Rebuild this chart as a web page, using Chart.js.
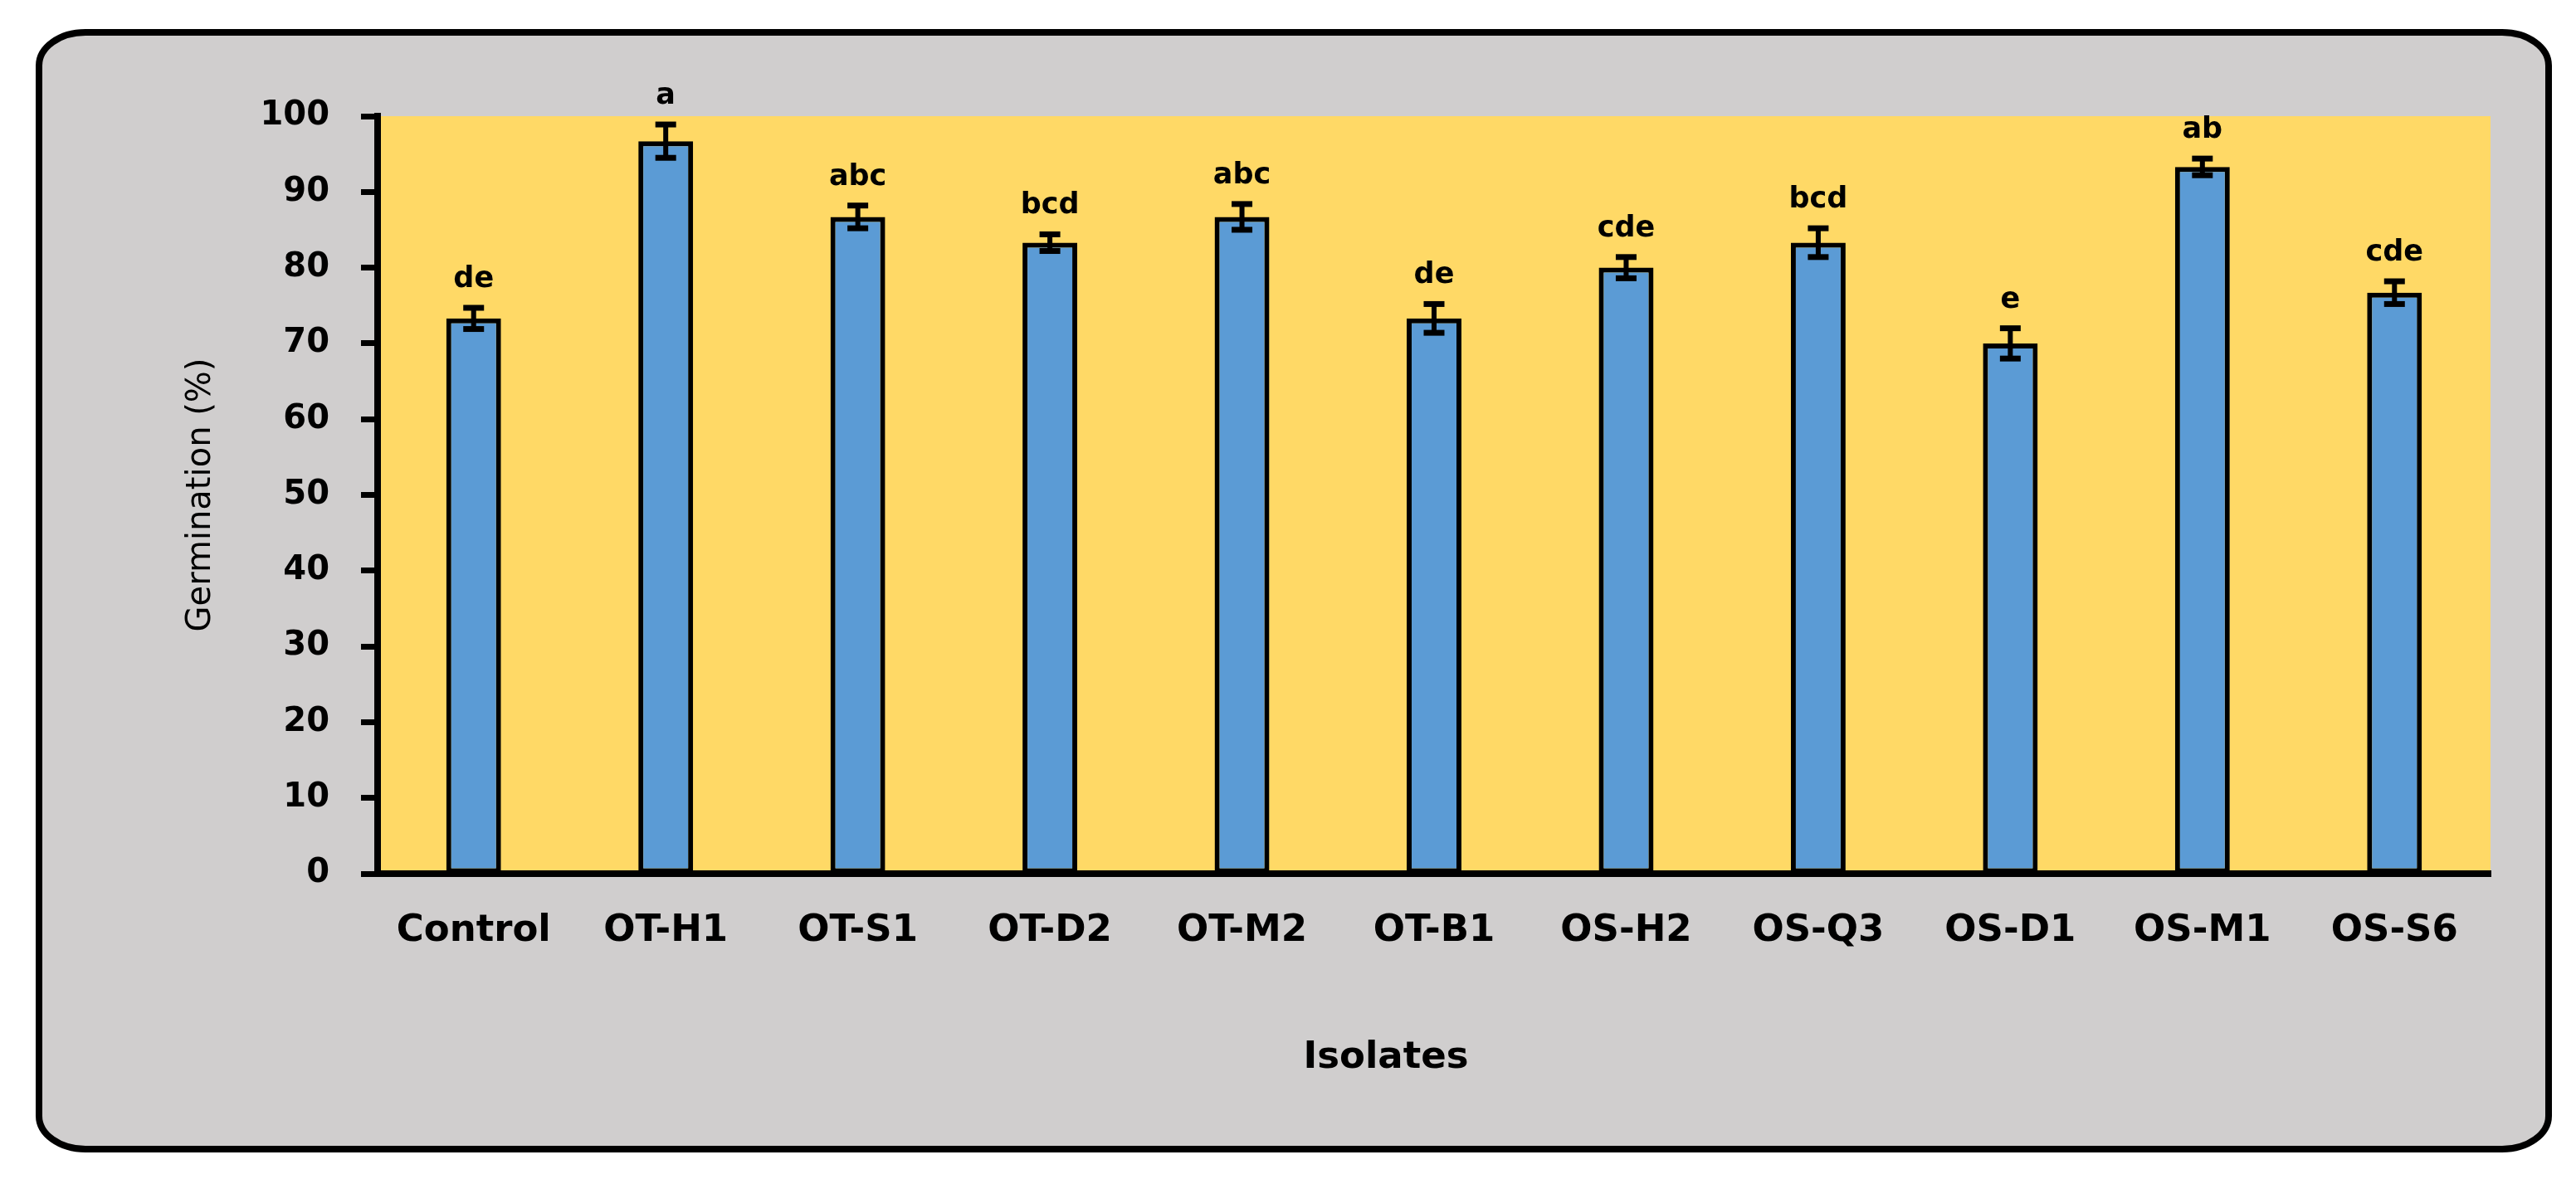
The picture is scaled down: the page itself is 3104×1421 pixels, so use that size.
<!DOCTYPE html>
<html>
<head>
<meta charset="utf-8">
<script src="https://cdn.jsdelivr.net/npm/chart.js@4.4.1/dist/chart.umd.min.js"></script>
<style>
  html, body { margin: 0; padding: 0; background: #ffffff; }
  #wrap { width: 3104px; height: 1421px; }
</style>
</head>
<body>
<div id="wrap"><canvas id="germination"></canvas></div>
<script>
const isolates = ["Control", "OT-H1", "OT-S1", "OT-D2", "OT-M2", "OT-B1", "OS-H2", "OS-Q3", "OS-D1", "OS-M1", "OS-S6"];
const germination = [73.3, 96.7, 86.7, 83.3, 86.7, 73.3, 80.0, 83.3, 70.0, 93.3, 76.7];
const errors = [1.4, 2.2, 1.5, 1.1, 1.7, 1.9, 1.4, 1.9, 2.0, 1.1, 1.5];
const letters = ["de", "a", "abc", "bcd", "abc", "de", "cde", "bcd", "e", "ab", "cde"];
const yTicks = [0, 10, 20, 30, 40, 50, 60, 70, 80, 90, 100];

const boldFont = "'DejaVu Sans'";

// grey rounded frame + yellow plot area
const background = {
  id: "background",
  beforeDraw(chart) {
    const { ctx, chartArea } = chart;
    ctx.save();
    ctx.fillStyle = "#ffffff";
    ctx.fillRect(0, 0, chart.width, chart.height);
    ctx.beginPath();
    ctx.roundRect(47, 39, 3024, 1346, [{ x: 56, y: 40 }]);
    ctx.fillStyle = "#D0CECE";
    ctx.fill();
    ctx.lineWidth = 8;
    ctx.strokeStyle = "#000000";
    ctx.stroke();
    ctx.fillStyle = "#FFD966";
    ctx.fillRect(chartArea.left, chartArea.top, chartArea.right - chartArea.left, chartArea.bottom - chartArea.top);
    ctx.restore();
  },
};

// error bars, significance letters and the x title
const errorBars = {
  id: "errorBars",
  afterDatasetsDraw(chart) {
    const { ctx, scales } = chart;
    const y = scales.y;
    const meta = chart.getDatasetMeta(0);
    ctx.save();
    ctx.fillStyle = "#000000";
    meta.data.forEach((bar, i) => {
      const top = y.getPixelForValue(germination[i] + errors[i]);
      const bottom = y.getPixelForValue(germination[i] - errors[i]);
      ctx.fillRect(bar.x - 3, top, 6, bottom - top);
      ctx.fillRect(bar.x - 12.5, top - 3.5, 25, 7);
      ctx.fillRect(bar.x - 12.5, bottom - 3.5, 25, 7);
      ctx.font = "bold 35px " + boldFont;
      ctx.textAlign = "center";
      ctx.textBaseline = "alphabetic";
      ctx.fillText(letters[i], bar.x, top - 25);
    });
    ctx.restore();
  },
  afterDraw(chart) {
    const { ctx, chartArea } = chart;
    ctx.save();
    ctx.fillStyle = "#000000";
    ctx.font = "bold 45px " + boldFont;
    ctx.textAlign = "center";
    ctx.textBaseline = "middle";
    ctx.fillText("Isolates", (chartArea.left + chartArea.right) / 2 - 58, 1275);
    ctx.restore();
  },
};

new Chart(document.getElementById("germination"), {
  type: "bar",
  data: {
    labels: isolates,
    datasets: [
      {
        label: "Germination (%)",
        data: germination,
        backgroundColor: "#5B9BD5",
        borderColor: "#000000",
        borderWidth: 6,
        borderSkipped: false,
        categoryPercentage: 1.0,
        barPercentage: 0.285,
      },
    ],
  },
  options: {
    responsive: true,
    maintainAspectRatio: false,
    animation: false,
    layout: { padding: { left: 219, right: 103, top: 140, bottom: 120 } },
    plugins: {
      legend: { display: false },
      tooltip: { enabled: false },
    },
    scales: {
      x: {
        afterFit: (scale) => { scale.height = 248; },
        grid: { display: false },
        border: { display: true, color: "#000000", width: 8, z: 1 },
        ticks: {
          color: "#000000",
          padding: 34,
          maxRotation: 0,
          font: { family: boldFont, weight: "bold", size: 45 },
        },
        title: { display: false },
      },
      y: {
        min: 0,
        max: 100,
        afterFit: (scale) => { scale.width = 236; },
        afterBuildTicks: (scale) => { scale.ticks = yTicks.map((v) => ({ value: v })); },
        grid: {
          display: true,
          drawOnChartArea: false,
          drawTicks: true,
          tickLength: 20,
          tickWidth: 7,
          tickColor: "#000000",
        },
        border: { display: true, color: "#000000", width: 8, z: 1 },
        ticks: {
          color: "#000000",
          padding: 38,
          font: { family: boldFont, weight: "bold", size: 40 },
        },
        title: {
          display: true,
          text: "Germination (%)",
          color: "#000000",
          padding: { top: 0, bottom: 0 },
          font: { family: "'DejaVu Sans'", weight: "normal", size: 40 },
        },
      },
    },
  },
  plugins: [background, errorBars],
});
</script>
</body>
</html>
